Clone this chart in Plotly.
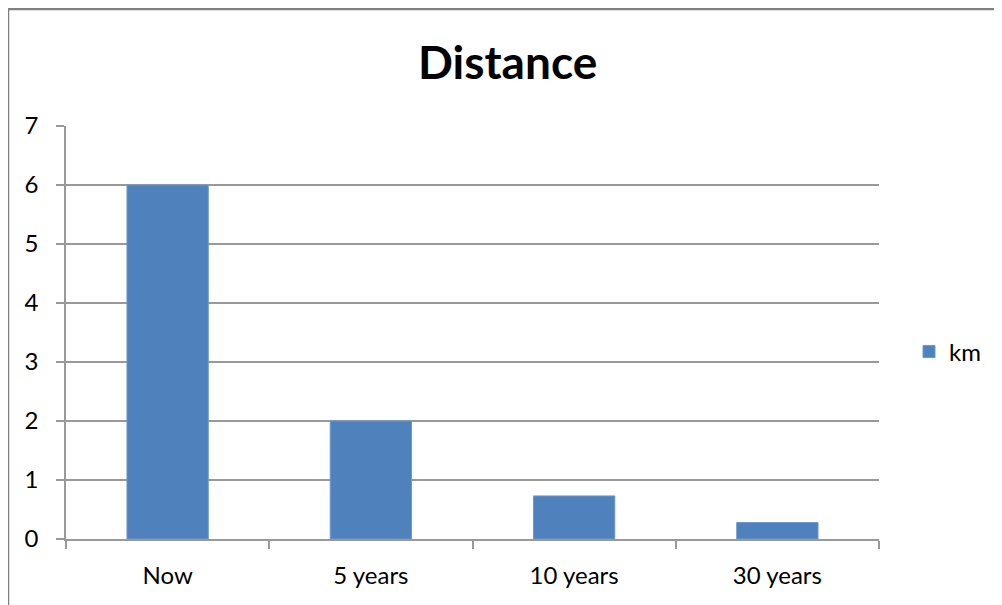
import plotly.graph_objects as go

categories = ["Now", "5 years", "10 years", "30 years"]
km_values = [6, 2, 0.73, 0.28]
y_ticks = [0, 1, 2, 3, 4, 5, 6, 7]

W, H = 1002, 605
OFF = 8  # page body margin offset
L, T = 66 - OFF, 126 - OFF
B = H - (539 - OFF)
R = W - (879 - OFF)
pw = W - L - R
ph = H - T - B

def px(xw):
    return (xw - OFF - L) / pw

def py(yw):
    return (H - B - (yw - OFF)) / ph

fig = go.Figure()
fig.add_trace(go.Bar(
    x=categories, y=km_values, name="km",
    marker=dict(color="#4F81BD", line=dict(color="#6E97CC", width=1)),
    width=0.4,
))

grey = "#999999"
fig.update_layout(
    width=W, height=H,
    margin=dict(l=L, r=R, t=T, b=B, pad=0),
    paper_bgcolor="white", plot_bgcolor="white",
    font=dict(family="Lato, Open Sans, sans-serif", size=24, color="#000000"),
    showlegend=True,
    legend=dict(x=px(909), y=py(352), xanchor="left", yanchor="middle",
                font=dict(size=24), itemwidth=30, bgcolor="rgba(0,0,0,0)"),
    xaxis=dict(showgrid=False, showline=True, linecolor=grey, linewidth=1.8,
               ticks="outside", tickson="boundaries", ticklen=8, tickcolor=grey,
               tickwidth=1.8, tickfont=dict(size=24), automargin=False,
               ticklabelstandoff=14),
    yaxis=dict(range=[0, 7], tickvals=y_ticks, showgrid=True, gridcolor=grey,
               gridwidth=1.6, showline=True, linecolor=grey, linewidth=1.8,
               ticks="outside", ticklen=8, tickcolor=grey, tickwidth=1.8,
               tickfont=dict(size=24), zeroline=False, automargin=False,
               ticklabelstandoff=13),
)

fig.add_annotation(text="<b>Distance</b>", xref="paper", yref="paper",
                   x=px(508), y=py(62), showarrow=False,
                   font=dict(size=46, family="Lato, Open Sans, sans-serif"),
                   xanchor="center", yanchor="middle")

# chart frame (left and top edges visible)
x0 = px(8)
ytop = py(9)
fig.add_shape(type="line", xref="paper", yref="paper", x0=x0, x1=x0,
              y0=ytop, y1=-0.3, line=dict(color="#808080", width=2.5))
fig.add_shape(type="line", xref="paper", yref="paper", x0=x0, x1=1.3,
              y0=ytop, y1=ytop, line=dict(color="#808080", width=2.5))

fig.write_html("out.html")
